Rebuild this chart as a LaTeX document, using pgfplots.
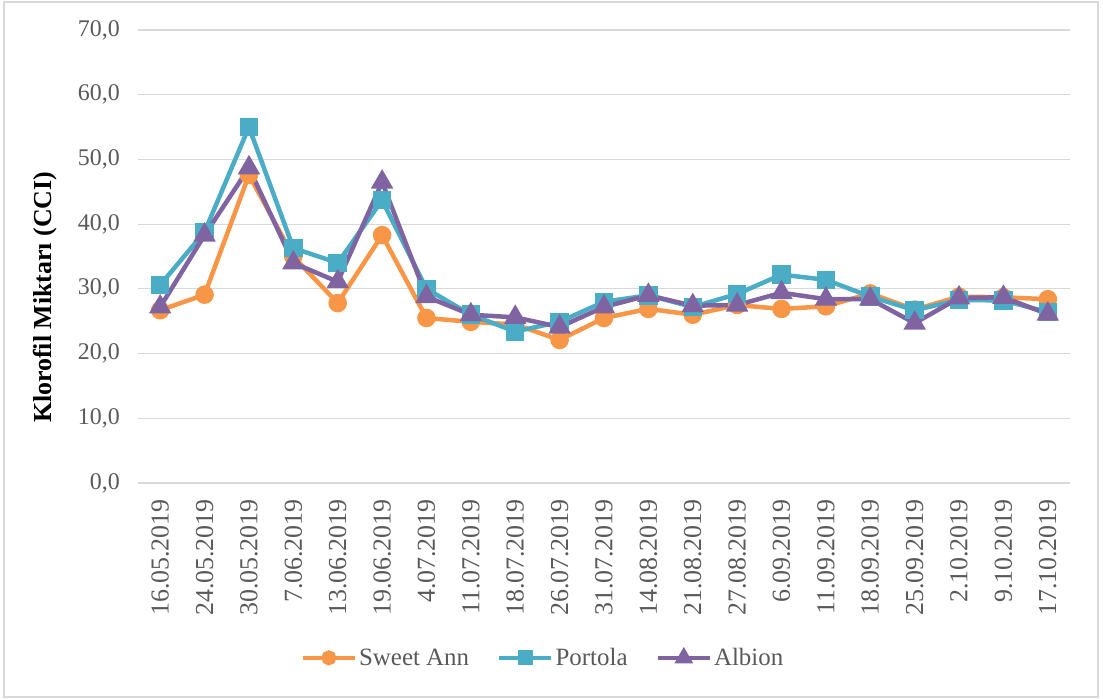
\documentclass[border=0pt]{standalone}
\usepackage{pgfplots}
\pgfplotsset{compat=1.18}
\usepackage{fontspec}
\setmainfont{Liberation Serif}
\definecolor{cSA}{HTML}{F79646}
\definecolor{cPO}{HTML}{4BACC6}
\definecolor{cAL}{HTML}{8064A2}
\definecolor{txt}{HTML}{595959}
\definecolor{gridc}{HTML}{D9D9D9}
\begin{document}
\begin{tikzpicture}
\path[use as bounding box] (0,0) rectangle (1103bp,699bp);
\draw[gridc, line width=1.2bp] (4bp,2bp) rectangle (1098bp,697bp);
\begin{axis}[
  at={(138bp,216bp)}, anchor=south west,
  scale only axis, width=932bp, height=453bp,
  xmin=-0.5, xmax=20.5, ymin=0, ymax=70,
  ytick={0,10,...,70},
  xtick={0,...,20},
  xticklabels={16.05.2019,24.05.2019,30.05.2019,7.06.2019,13.06.2019,19.06.2019,4.07.2019,11.07.2019,18.07.2019,26.07.2019,31.07.2019,14.08.2019,21.08.2019,27.08.2019,6.09.2019,11.09.2019,18.09.2019,25.09.2019,2.10.2019,9.10.2019,17.10.2019},
  separate axis lines,
  axis x line*=bottom, axis y line*=left,
  x axis line style={draw=gridc, line width=1.2bp},
  y axis line style={draw=none},
  major tick length=0pt,
  ymajorgrids, grid style={draw=gridc, line width=1.2bp},
  ticklabel style={text=txt, inner sep=0pt},
  yticklabel style={font=\fontsize{24}{28}\selectfont},
  xticklabel style={font=\fontsize{26}{30}\selectfont, rotate=90, anchor=east},
  xticklabel shift=16bp,
  yticklabel shift=18bp,
  yticklabel style={/pgf/number format/.cd, fixed, fixed zerofill, precision=1, use comma, assume math mode=true},
  ylabel={\textbf{Klorofil Miktarı (CCI)}},
  ylabel style={font=\fontsize{26}{30}\selectfont, at={(axis description cs:-0.1,0.41)}, anchor=center, rotate=0},
  legend style={at={(axis description cs:0.4345,-0.386)}, anchor=center, draw=none, fill=none,
    legend columns=3, font=\fontsize{25}{30}\selectfont, text=txt,
    /tikz/every even column/.append style={column sep=26bp}, inner sep=0pt, nodes={inner sep=2bp}},
  legend image code/.code={\draw[#1, mark repeat=2, mark phase=2, every mark/.append style={scale=0.75}] plot coordinates {(0bp,0bp) (26bp,0bp) (52bp,0bp)};},
  every axis plot/.append style={line width=4.5bp, mark options={solid}},
]
\addplot[cSA, mark=*, mark size=7bp, mark options={fill=cSA, draw=cSA}] coordinates {
(0,26.7)(1,29.1)(2,47.6)(3,35.0)(4,27.8)(5,38.3)(6,25.5)(7,24.9)(8,24.5)(9,22.1)(10,25.5)(11,26.9)(12,26.0)(13,27.5)(14,26.9)(15,27.3)(16,29.3)(17,26.8)(18,28.8)(19,28.7)(20,28.4)};
\addlegendentry{Sweet Ann}
\addplot[cPO, mark=square*, mark size=7bp, mark options={fill=cPO, draw=cPO}] coordinates {
(0,30.6)(1,38.8)(2,55.0)(3,36.3)(4,34.0)(5,43.7)(6,30.0)(7,26.0)(8,23.4)(9,24.9)(10,28.0)(11,29.0)(12,27.2)(13,29.2)(14,32.2)(15,31.4)(16,28.8)(17,26.7)(18,28.3)(19,28.2)(20,26.4)};
\addlegendentry{Portola}
\addplot[cAL, mark=triangle*, mark size=8.5bp, mark options={fill=cAL, draw=cAL}] coordinates {
(0,27.2)(1,38.3)(2,48.7)(3,34.0)(4,31.1)(5,46.5)(6,28.8)(7,26.0)(8,25.6)(9,24.1)(10,27.2)(11,29.0)(12,27.4)(13,27.5)(14,29.4)(15,28.4)(16,28.4)(17,24.7)(18,28.6)(19,28.7)(20,26.1)};
\addlegendentry{Albion}
\end{axis}
\end{tikzpicture}
\end{document}
